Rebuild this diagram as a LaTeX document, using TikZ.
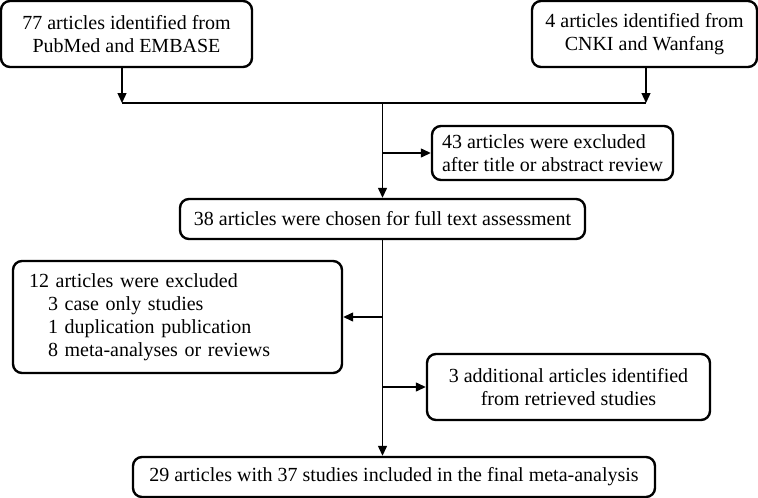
\documentclass[tikz,border=0pt]{standalone}
\usepackage{fontspec}
\setmainfont{Liberation Serif}
\usetikzlibrary{arrows.meta}

\begin{document}
\begin{tikzpicture}[x=1pt, y=-1pt,
  box/.style={draw, line width=2.4pt, rounded corners=9pt, inner sep=0pt,
    font=\fontsize{20}{23}\selectfont},
  link/.style={line width=1.3pt},
  flow/.style={link, -{Triangle[length=10pt, width=9pt]}}]
  \useasboundingbox (0,0) rectangle (758,498);

  \node[box, minimum width=251pt, minimum height=66pt, align=center] (pubmed) at (126.5,34)
    {77 articles identified from\\PubMed and EMBASE};
  \node[box, minimum width=225pt, minimum height=66pt, align=center] (cnki) at (644.5,34)
    {4 articles identified from\\CNKI and Wanfang};
  \node[box, minimum width=241pt, minimum height=54pt, align=left] (title) at (552.5,153)
    {43 articles were excluded\\after title or abstract review};
  \node[box, minimum width=405pt, minimum height=40pt, align=center] (fulltext) at (382.5,219)
    {38 articles were chosen for full text assessment};
  \node[box, inner xsep=16pt, text width=297pt, minimum height=112pt, align=left] (excl) at (177.5,317)
    {12 articles were excluded\\
     \hspace*{19pt}3 case only studies\\
     \hspace*{19pt}1 duplication publication\\
     \hspace*{19pt}8 meta-analyses or reviews};
  \node[box, minimum width=283pt, minimum height=66pt, align=center] (extra) at (568.5,387)
    {3 additional articles identified\\from retrieved studies};
  \node[box, minimum width=522pt, minimum height=40pt, align=center] (final) at (394,477)
    {29 articles with 37 studies included in the final meta-analysis};

  % merge the two searches
  \coordinate (jl) at (122,103);
  \coordinate (jr) at (646,103);
  \coordinate (jm) at (382.5,103);
  \draw[flow] (pubmed.south -| jl) -- (jl);
  \draw[flow] (cnki.south -| jr) -- (jr);
  \draw[link] (jl) -- (jr);
  \draw[flow] (jm) -- (fulltext.north);
  \draw[flow] (title.west -| jm) -- (title.west);

  % full text stage
  \draw[flow] (fulltext.south) -- (fulltext.south |- final.north);
  \draw[flow] (excl.east -| fulltext.south) -- (excl.east);
  \draw[flow] (extra.west -| fulltext.south) -- (extra.west);
\end{tikzpicture}
\end{document}
